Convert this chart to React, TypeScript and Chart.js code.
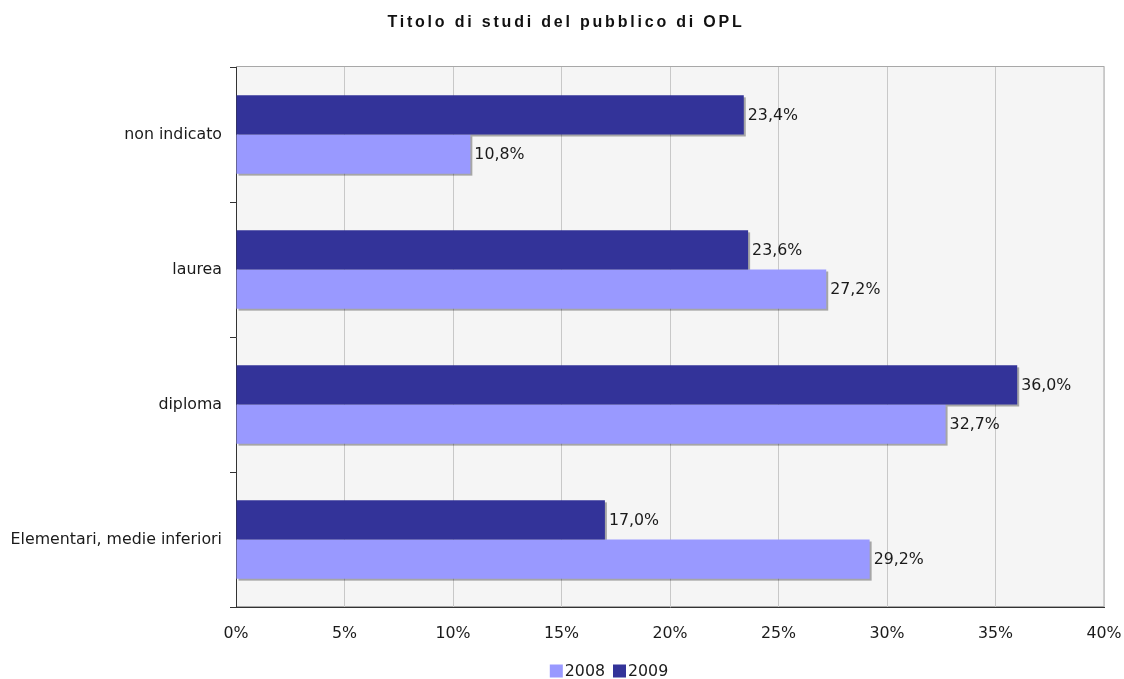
import React, { useEffect, useRef } from "react";
import { Chart, registerables } from "chart.js";

Chart.register(...registerables);

const TITLE = "Titolo di studi del pubblico di OPL";
const categories = ["non indicato", "laurea", "diploma", "Elementari, medie inferiori"];
const values2008 = [10.8, 27.2, 32.7, 29.2];
const values2009 = [23.4, 23.6, 36.0, 17.0];
const xTicks = [0, 5, 10, 15, 20, 25, 30, 35, 40];
const seriesNames = ["2008", "2009"];
const COLOR_2008 = "#9999ff";
const COLOR_2009 = "#333399";
const FONT = "'DejaVu Sans', Verdana, sans-serif";
const FS = 15.8;

const fmt = (v: number) => v.toFixed(1).replace(".", ",") + "%";

const decorPlugin = {
  id: "decor",
  beforeDraw(chart: any) {
    const { ctx, chartArea: a } = chart;
    ctx.save();
    ctx.fillStyle = "#f5f5f5";
    ctx.fillRect(a.left, a.top, a.right - a.left, a.bottom - a.top);
    ctx.strokeStyle = "#a8a8a8";
    ctx.lineWidth = 1;
    ctx.strokeRect(a.left + 0.5, a.top - 0.5, a.right - a.left - 0.5, a.bottom - a.top);
    ctx.restore();
  },
  beforeDatasetsDraw(chart: any) {
    const { ctx } = chart;
    ctx.save();
    ctx.fillStyle = "rgba(0,0,0,0.32)";
    chart.data.datasets.forEach((_: any, i: number) => {
      const meta = chart.getDatasetMeta(i);
      meta.data.forEach((el: any) => {
        const p = el.getProps(["x", "y", "base", "height"], true);
        const left = Math.min(p.x, p.base);
        const w = Math.abs(p.x - p.base);
        ctx.fillRect(left + 2, p.y - p.height / 2 + 2, w, p.height);
      });
    });
    ctx.restore();
  },
  afterDatasetsDraw(chart: any) {
    const { ctx } = chart;
    ctx.save();
    ctx.font = `${FS}px ${FONT}`;
    ctx.fillStyle = "#1a1a1a";
    ctx.textAlign = "left";
    ctx.textBaseline = "middle";
    chart.data.datasets.forEach((ds: any, i: number) => {
      const meta = chart.getDatasetMeta(i);
      meta.data.forEach((el: any, j: number) => {
        const p = el.getProps(["x", "y"], true);
        ctx.fillText(fmt(ds.data[j]), p.x + 4, p.y + 1);
      });
    });
    ctx.restore();
  },
  afterDraw(chart: any) {
    const { ctx, width } = chart;
    ctx.save();
    // title
    ctx.font = `bold 16px 'Liberation Sans', Arial, sans-serif`;
    (ctx as any).letterSpacing = "2.8px";
    ctx.fillStyle = "#111";
    ctx.textAlign = "center";
    ctx.textBaseline = "middle";
    ctx.fillText(TITLE, width / 2 + 4, 23);
    (ctx as any).letterSpacing = "0px";
    // legend
    ctx.font = `${FS}px ${FONT}`;
    ctx.textAlign = "left";
    const box = 13;
    const gap = 2;
    const spacing = 8;
    const items = [
      { label: seriesNames[0], color: COLOR_2008 },
      { label: seriesNames[1], color: COLOR_2009 },
    ];
    const widths = items.map((it) => box + gap + ctx.measureText(it.label).width);
    const total = widths.reduce((s, w) => s + w, 0) + spacing * (items.length - 1);
    let x = 609 - total / 2;
    const cy = 671;
    items.forEach((it, i) => {
      ctx.fillStyle = it.color;
      ctx.fillRect(x, cy - box / 2, box, box);
      ctx.fillStyle = "#1a1a1a";
      ctx.fillText(it.label, x + box + gap, cy + 1);
      x += widths[i] + spacing;
    });
    ctx.restore();
  },
};

export default function App() {
  const ref = useRef<HTMLCanvasElement | null>(null);
  useEffect(() => {
    if (!ref.current) return;
    const chart = new Chart(ref.current, {
      type: "bar",
      data: {
        labels: categories,
        datasets: [
          {
            label: seriesNames[1],
            data: values2009,
            backgroundColor: COLOR_2009,
            categoryPercentage: 0.58,
            barPercentage: 1,
          },
          {
            label: seriesNames[0],
            data: values2008,
            backgroundColor: COLOR_2008,
            categoryPercentage: 0.58,
            barPercentage: 1,
          },
        ],
      },
      options: {
        indexAxis: "y",
        animation: false,
        responsive: false,
        maintainAspectRatio: false,
        layout: { padding: { top: 67, right: 20, left: 0, bottom: 0 } },
        plugins: {
          legend: { display: false },
          title: { display: false },
          tooltip: { enabled: false },
        },
        scales: {
          x: {
            min: 0,
            max: 40,
            afterBuildTicks: (s: any) => {
              s.ticks = xTicks.map((v) => ({ value: v }));
            },
            afterFit: (s: any) => {
              s.height = 72;
              s.paddingLeft = 0;
              s.paddingRight = 0;
            },
            ticks: {
              padding: 17,
              color: "#1a1a1a",
              font: { family: FONT, size: FS },
              callback: (v: any) => `${v}%`,
            },
            grid: {
              drawTicks: false,
              color: (c: any) => (c.index === 0 ? "rgba(0,0,0,0)" : "#c8c8c8"),
            },
            border: { display: true, color: "#333" },
          },
          y: {
            afterFit: (s: any) => {
              s.width = 236;
              s.paddingTop = 0;
              s.paddingBottom = 0;
            },
            ticks: {
              padding: 8,
              color: "#1a1a1a",
              font: { family: FONT, size: FS },
            },
            grid: {
              offset: true,
              drawOnChartArea: false,
              drawTicks: true,
              tickLength: 6,
              color: "#333",
            },
            border: { display: true, color: "#333" },
          },
        },
      },
      plugins: [decorPlugin],
    });
    return () => chart.destroy();
  }, []);
  return (
    <div style={{ position: "absolute", left: 0, top: 0, width: 1124, height: 679 }}>
      <canvas ref={ref} width={1124} height={679} style={{ display: "block" }} />
    </div>
  );
}
